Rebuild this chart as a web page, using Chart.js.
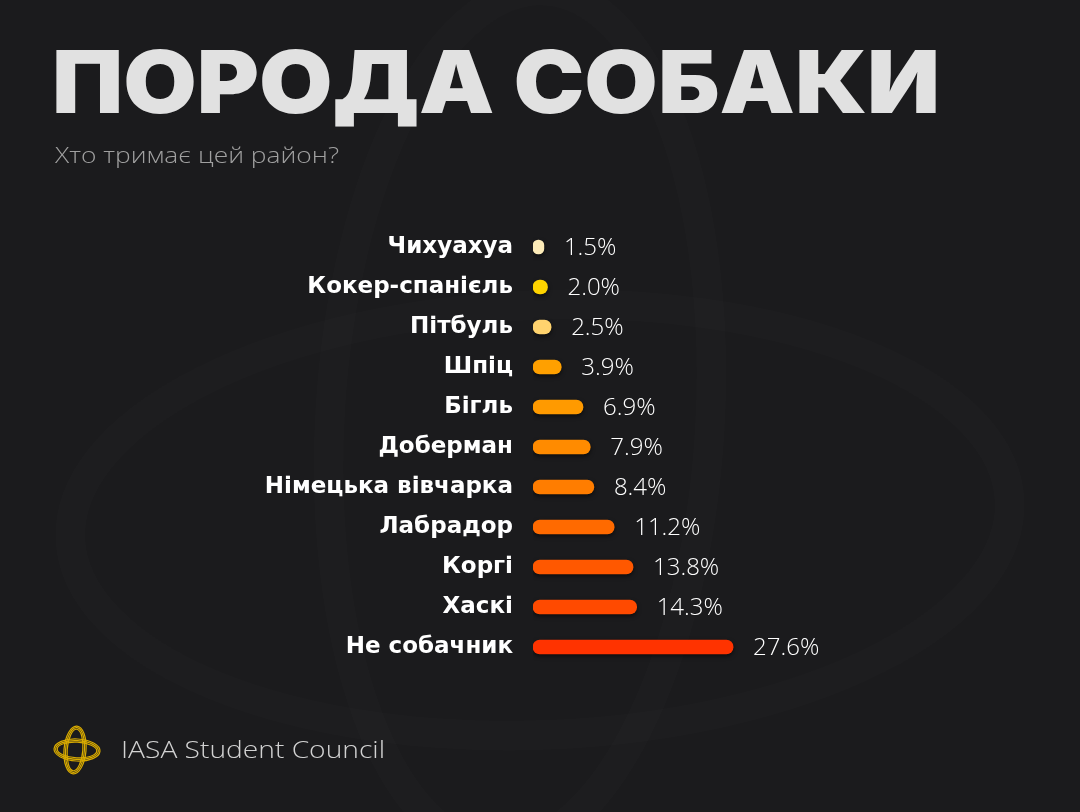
<!DOCTYPE html>
<html>
<head>
<meta charset="utf-8">
<script src="https://cdn.jsdelivr.net/npm/chart.js@4"></script>
<style>
html,body{margin:0;padding:0;background:#1b1b1d;overflow:hidden;}
#c{display:block;}
</style>
</head>
<body>
<canvas id="c" width="1080" height="812"></canvas>
<script>
const titleText = 'ПОРОДА СОБАКИ';
const subtitleText = 'Хто тримає цей район?';
const footerText = 'IASA Student Council';
const categories = ['Чихуахуа','Кокер-спанієль','Пітбуль','Шпіц','Бігль','Доберман','Німецька вівчарка','Лабрадор','Коргі','Хаскі','Не собачник'];
const values = [1.5, 2.0, 2.5, 3.9, 6.9, 7.9, 8.4, 11.2, 13.8, 14.3, 27.6];
const barColors = ['#FCEBB8','#FFD400','#FFD36E','#FFA000','#FF9A00','#FF8B00','#FF7D00','#FF6A00','#FF5800','#FF4A00','#FF3300'];
const valueLabels = values.map(v => v.toFixed(1) + '%');

function fitText(ctx, text, x, y, font, width, color){
  ctx.save();
  ctx.font = font;
  const w = ctx.measureText(text).width;
  ctx.translate(x, y);
  ctx.scale(width / w, 1);
  ctx.fillStyle = color;
  ctx.textAlign = 'left';
  ctx.textBaseline = 'alphabetic';
  ctx.fillText(text, 0, 0);
  ctx.restore();
}

const decorPlugin = {
  id: 'decor',
  beforeDraw(chart){
    const ctx = chart.ctx;
    ctx.save();
    ctx.fillStyle = '#1b1b1d';
    ctx.fillRect(0, 0, chart.width, chart.height);
    // faint watermark
    ctx.strokeStyle = 'rgba(255,255,255,0.012)';
    ctx.lineWidth = 30;
    ctx.beginPath();
    ctx.ellipse(540, 520, 470, 215, -0.04, 0, Math.PI*2);
    ctx.stroke();
    ctx.beginPath();
    ctx.ellipse(520, 420, 190, 430, 0.06, 0, Math.PI*2);
    ctx.stroke();
    ctx.restore();
    // title
    fitText(ctx, titleText, 52, 113, '900 87px Inter, Roboto, "DejaVu Sans"', 888, '#e1e1e1');
    fitText(ctx, subtitleText, 55, 163, '300 22px "Open Sans"', 284, '#a0a0a0');
    fitText(ctx, footerText, 121, 758, '300 24px "Open Sans"', 264, '#d2d2d2');
    // logo
    ctx.save();
    ctx.translate(75, 750);
    ctx.strokeStyle = '#d9ab00';
    for (let i = 0; i < 3; i++) {
      ctx.lineWidth = 1.2;
      ctx.beginPath();
      ctx.ellipse(2, 0, 23 - i*1.6, 11 - i*1.6, 0.05, 0, Math.PI*2);
      ctx.stroke();
      ctx.beginPath();
      ctx.ellipse(0, 0, 11 - i*1.6, 24 - i*1.6, 0.08, 0, Math.PI*2);
      ctx.stroke();
    }
    ctx.restore();
  },
  beforeDatasetsDraw(chart){
    const ctx = chart.ctx;
    ctx.save();
    ctx.shadowColor = 'rgba(0,0,0,0.55)';
    ctx.shadowBlur = 4;
    ctx.shadowOffsetY = 2;
  },
  afterDatasetsDraw(chart){
    const ctx = chart.ctx;
    ctx.restore();
    const meta = chart.getDatasetMeta(0);
    ctx.save();
    ctx.font = '300 24px "Open Sans"';
    ctx.fillStyle = '#ffffff';
    ctx.textAlign = 'left';
    ctx.textBaseline = 'middle';
    meta.data.forEach((bar, i) => {
      ctx.fillText(valueLabels[i], bar.x + 20, bar.y + 1);
    });
    ctx.restore();
  }
};

new Chart(document.getElementById('c'), {
  type: 'bar',
  data: {
    labels: categories,
    datasets: [{
      data: values,
      backgroundColor: barColors,
      barThickness: 14,
      borderRadius: 7,
      borderSkipped: false
    }]
  },
  options: {
    indexAxis: 'y',
    responsive: false,
    animation: false,
    devicePixelRatio: 1,
    layout: { padding: { left: 0, right: 257, top: 227, bottom: 145 } },
    plugins: { legend: { display: false }, tooltip: { enabled: false } },
    scales: {
      x: { min: 0, max: 40, display: false },
      y: {
        grid: { display: false, drawTicks: false },
        border: { display: false },
        ticks: {
          color: '#ffffff',
          padding: 20,
          font: { family: '"DejaVu Sans"', weight: 'bold', size: 23 }
        },
        afterFit(scale){ scale.width = 533; }
      }
    }
  },
  plugins: [decorPlugin]
});
</script>
</body>
</html>
